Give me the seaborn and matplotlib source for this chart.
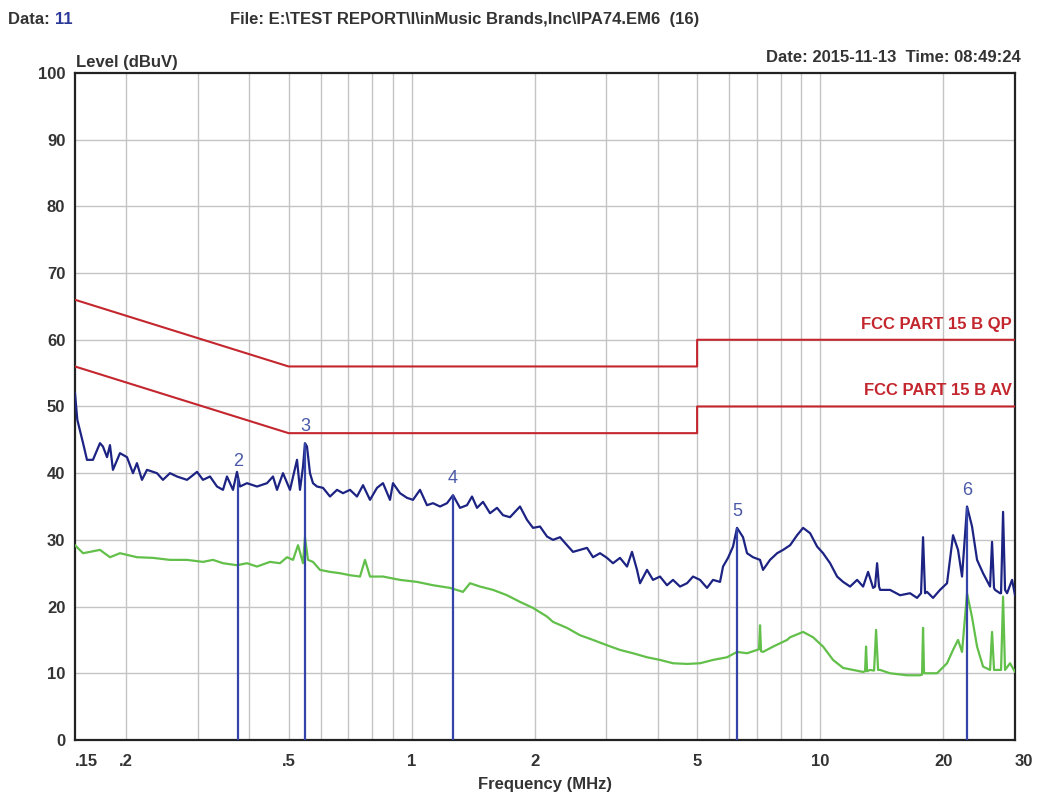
import matplotlib
matplotlib.use("Agg")
import matplotlib.pyplot as plt
from matplotlib.ticker import FixedLocator, NullFormatter, NullLocator
import seaborn as sns

# --- data (frequency in MHz, level in dBuV) ---
peak_freq = [
    0.150, 0.152, 0.157, 0.1605, 0.166, 0.1727, 0.1756, 0.1797, 0.1827, 0.1858,
    0.1933, 0.2011, 0.2080, 0.2127, 0.2188, 0.2251, 0.2381, 0.2463, 0.2562, 0.2666,
    0.2820, 0.2917, 0.2984, 0.3086, 0.3211, 0.3340, 0.3455, 0.3533, 0.3655, 0.3738,
    0.3802, 0.3955, 0.4184, 0.4427, 0.4579, 0.4684, 0.4845, 0.5040, 0.5243, 0.5332,
    0.5424, 0.5484, 0.5546, 0.5641, 0.5737, 0.5868, 0.6070, 0.6315, 0.6569, 0.6795,
    0.7068, 0.7352, 0.7606, 0.7911, 0.8230, 0.8513, 0.8855, 0.9006, 0.9369, 0.9746,
    1.0081, 1.0487, 1.0909, 1.1284, 1.1739, 1.2212, 1.2631, 1.3139, 1.3668, 1.4059,
    1.4460, 1.4958, 1.5560, 1.6186, 1.6743, 1.7417, 1.8426, 1.9168, 1.9827, 2.0626,
    2.1456, 2.2193, 2.3088, 2.4016, 2.4843, 2.5842, 2.6882, 2.7807, 2.8927, 3.0086,
    3.1121, 3.2375, 3.3680, 3.4641, 3.5632, 3.6239, 3.7699, 3.8995, 4.0566, 4.2197,
    4.3649, 4.5407, 4.7237, 4.8861, 5.0824, 5.2872, 5.4689, 5.6893, 5.7862, 5.9517,
    6.1220, 6.2613, 6.4765, 6.6245, 6.8522, 7.1276, 7.2491, 7.5412, 7.8494, 8.1192,
    8.4449, 8.7843, 9.0863, 9.4523, 9.8323, 10.170, 10.580, 11.006, 11.385, 11.842,
    12.319, 12.743, 13.107, 13.482, 13.63, 13.789, 13.94, 14.024, 14.833, 15.693,
    16.602, 17.270, 17.664, 17.865, 18.068, 18.273, 18.899, 19.660, 20.451, 21.155,
    21.759, 22.256, 22.893, 23.547, 24.221, 25.055, 26.063, 26.357, 26.65, 26.807,
    27.575, 27.73, 28.046, 28.36, 28.685, 29.505, 30.0,
]
peak_level = [
    52.0, 48.0, 44.5, 42.0, 42.0, 44.5, 44.0, 42.4, 44.2, 40.5,
    43.0, 42.4, 40.0, 41.5, 39.0, 40.5, 40.0, 39.0, 40.0, 39.5,
    39.0, 39.7, 40.2, 39.0, 39.5, 38.0, 37.5, 39.5, 37.5, 40.2,
    38.0, 38.5, 38.0, 38.5, 39.5, 37.5, 40.0, 37.5, 42.0, 37.5,
    41.0, 44.5, 44.0, 40.0, 38.5, 38.0, 37.8, 36.5, 37.5, 37.0,
    37.5, 36.5, 38.2, 36.0, 37.8, 38.5, 36.0, 38.5, 37.0, 36.3,
    36.0, 37.5, 35.2, 35.5, 35.0, 35.5, 36.7, 34.8, 35.2, 36.5,
    34.8, 35.7, 34.0, 34.8, 33.7, 33.4, 35.0, 33.0, 31.8, 32.0,
    30.5, 30.0, 30.4, 29.2, 28.2, 28.5, 28.8, 27.4, 28.0, 27.3,
    26.5, 27.3, 26.0, 28.2, 25.5, 23.5, 25.5, 24.0, 24.5, 23.2,
    24.0, 23.0, 23.5, 24.5, 24.0, 22.8, 24.0, 23.7, 26.0, 27.3,
    29.0, 31.8, 30.4, 28.0, 27.4, 27.0, 25.5, 27.0, 28.0, 28.5,
    29.2, 30.7, 31.8, 31.0, 29.0, 28.0, 26.5, 24.5, 23.7, 23.0,
    24.0, 23.0, 25.2, 22.8, 23.0, 26.5, 23.0, 22.5, 22.5, 21.7,
    22.0, 21.3, 22.0, 30.4, 22.0, 22.2, 21.3, 22.5, 23.5, 30.7,
    28.5, 24.5, 35.0, 32.0, 27.0, 25.0, 23.0, 29.7, 22.8, 22.5,
    22.0, 22.0, 34.2, 22.5, 22.0, 24.0, 21.7,
]

avg_freq = [
    0.150, 0.157, 0.1632, 0.1727, 0.1827, 0.1933, 0.2127, 0.2328, 0.2562, 0.2820,
    0.3086, 0.3265, 0.3455, 0.3738, 0.3955, 0.4184, 0.4502, 0.4763, 0.4956, 0.5126,
    0.5273, 0.5424, 0.5484, 0.5578, 0.5737, 0.5968, 0.6315, 0.6680, 0.7068, 0.7478,
    0.7691, 0.7911, 0.8513, 0.9369, 1.0311, 1.1284, 1.2420, 1.3363, 1.3901, 1.4707,
    1.5826, 1.7124, 1.8426, 1.9827, 2.1456, 2.2193, 2.4016, 2.5842, 2.7807, 3.0086,
    3.2375, 3.4839, 3.7699, 4.0566, 4.3649, 4.7237, 5.0824, 5.4689, 5.9186, 6.2613,
    6.6245, 7.0087, 7.0884, 7.1276, 7.169, 7.2491, 7.6725, 8.3025, 8.4449, 9.0863,
    9.6105, 10.170, 10.758, 11.385, 12.040, 12.743, 12.885, 12.957, 13.031, 13.254,
    13.556, 13.711, 13.866, 14.024, 14.833, 16.324, 17.564, 17.764, 17.865, 17.966,
    18.273, 19.329, 20.451, 21.155, 21.759, 22.256, 22.893, 23.547, 24.221, 25.055,
    26.063, 26.357, 26.657, 27.73, 28.046, 28.36, 29.17, 30.0,
]
avg_level = [
    29.2, 28.0, 28.2, 28.5, 27.4, 28.0, 27.4, 27.3, 27.0, 27.0,
    26.7, 27.0, 26.5, 26.2, 26.5, 26.0, 26.7, 26.5, 27.4, 27.0,
    29.2, 26.5, 30.4, 27.0, 26.7, 25.5, 25.2, 25.0, 24.7, 24.5,
    27.0, 24.5, 24.5, 24.0, 23.7, 23.2, 22.8, 22.2, 23.5, 23.0,
    22.5, 21.7, 20.7, 19.8, 18.5, 17.7, 16.8, 15.7, 15.0, 14.2,
    13.5, 13.0, 12.4, 12.0, 11.5, 11.4, 11.5, 12.0, 12.4, 13.2,
    13.0, 13.5, 13.6, 17.2, 13.3, 13.2, 14.0, 15.0, 15.4, 16.2,
    15.4, 14.0, 12.0, 10.8, 10.5, 10.2, 10.3, 14.0, 10.3, 10.5,
    10.4, 16.5, 10.5, 10.5, 10.0, 9.7, 9.7, 9.8, 16.8, 10.0,
    10.0, 10.0, 11.5, 13.5, 15.0, 13.2, 22.0, 18.4, 14.0, 11.0,
    10.5, 16.2, 10.5, 10.5, 21.5, 10.5, 11.5, 10.2,
]

qp_freq = [0.15, 0.5, 5.0, 5.0, 30.0]
qp_level = [66, 56, 56, 60, 60]
av_freq = [0.15, 0.5, 5.0, 5.0, 30.0]
av_level = [56, 46, 46, 50, 50]

marker_ids = ["2", "3", "4", "5", "6"]
marker_freq = [0.376, 0.5484, 1.2631, 6.2613, 22.893]
marker_level = [39.3, 44.5, 36.7, 31.8, 35.0]

x_ticks = [0.15, 0.2, 0.5, 1, 2, 5, 10, 20, 30]
x_tick_labels = [".15", ".2", ".5", "1", "2", "5", "10", "20", "30"]
x_grid = [0.2, 0.3, 0.4, 0.5, 0.6, 0.7, 0.8, 0.9, 1, 2, 3, 4, 5, 6, 7, 8, 9, 10, 20]

# --- style ---
sns.set_style("white")
plt.rcParams["font.family"] = ["Liberation Sans", "DejaVu Sans"]

TXT = "#333333"
RED = "#c4262e"
NAVY = "#1c2383"
GREEN = "#62c04a"
MARK = "#3544a8"

fig = plt.figure(figsize=(10.37, 7.96), dpi=100)
ax = fig.add_axes([0.0723, 0.0704, 0.9065, 0.8379])
ax.set_xscale("log")
ax.set_xlim(0.15, 30)
ax.set_ylim(0, 100)

# grid
for f in x_grid:
    ax.axvline(f, color="#c4c4c4", lw=1.0, zorder=0)
for lv in range(10, 100, 10):
    ax.axhline(lv, color="#c4c4c4", lw=1.0, zorder=0)

# limit lines (estimator=None so the step at 5 MHz is kept)
sns.lineplot(x=qp_freq, y=qp_level, ax=ax, color=RED, lw=1.5, sort=False,
             estimator=None, zorder=3)
sns.lineplot(x=av_freq, y=av_level, ax=ax, color=RED, lw=1.5, sort=False,
             estimator=None, zorder=3)
ax.text(29.5, 61.2, "FCC PART 15 B QP", color=RED, fontsize=12, fontweight="bold",
        ha="right", va="bottom")
ax.text(29.5, 51.2, "FCC PART 15 B AV", color=RED, fontsize=12, fontweight="bold",
        ha="right", va="bottom")

# traces
sns.lineplot(x=avg_freq, y=avg_level, ax=ax, color=GREEN, lw=1.6, sort=False,
             estimator=None, zorder=4)
sns.lineplot(x=peak_freq, y=peak_level, ax=ax, color=NAVY, lw=1.6, sort=False,
             estimator=None, zorder=5)

# markers
ax.vlines(marker_freq, 0, marker_level, color=MARK, lw=1.6, zorder=6)
for mid, f, lv in zip(marker_ids, marker_freq, marker_level):
    ax.text(f, lv + 1.2, mid, color="#4a5aa8", fontsize=13, ha="center", va="bottom")

# axes, ticks
ax.xaxis.set_major_locator(FixedLocator(x_ticks))
ax.xaxis.set_minor_locator(NullLocator())
ax.xaxis.set_minor_formatter(NullFormatter())
ax.set_xticklabels(x_tick_labels)
ax.set_yticks(range(0, 101, 10))
ax.tick_params(length=0, labelsize=12, labelcolor=TXT)
ax.tick_params(axis="x", pad=10)
ax.tick_params(axis="y", pad=7)
for lab in ax.get_xticklabels() + ax.get_yticklabels():
    lab.set_fontweight("bold")
ax.get_xticklabels()[0].set_horizontalalignment("left")
ax.get_xticklabels()[-1].set_horizontalalignment("left")
for sp in ax.spines.values():
    sp.set_color("#222222")
    sp.set_linewidth(1.6)
ax.grid(False)

ax.set_xlabel("Frequency (MHz)", fontsize=12, fontweight="bold", color=TXT, labelpad=6)
ax.set_ylabel("")

# header texts
fig.text(0.008, 0.976, "Data: ", fontsize=12, fontweight="bold", color=TXT, va="center")
fig.text(0.053, 0.976, "11", fontsize=12, fontweight="bold", color="#2b3a9a", va="center")
fig.text(0.222, 0.976, "File: E:\\TEST REPORT\\I\\inMusic Brands,Inc\\IPA74.EM6  (16)",
         fontsize=12, fontweight="bold", color=TXT, va="center")
fig.text(0.984, 0.928, "Date: 2015-11-13  Time: 08:49:24", fontsize=12,
         fontweight="bold", color=TXT, ha="right", va="center")
fig.text(0.073, 0.922, "Level (dBuV)", fontsize=12, fontweight="bold", color=TXT,
         va="center")

fig.savefig("out.png", dpi=100)
